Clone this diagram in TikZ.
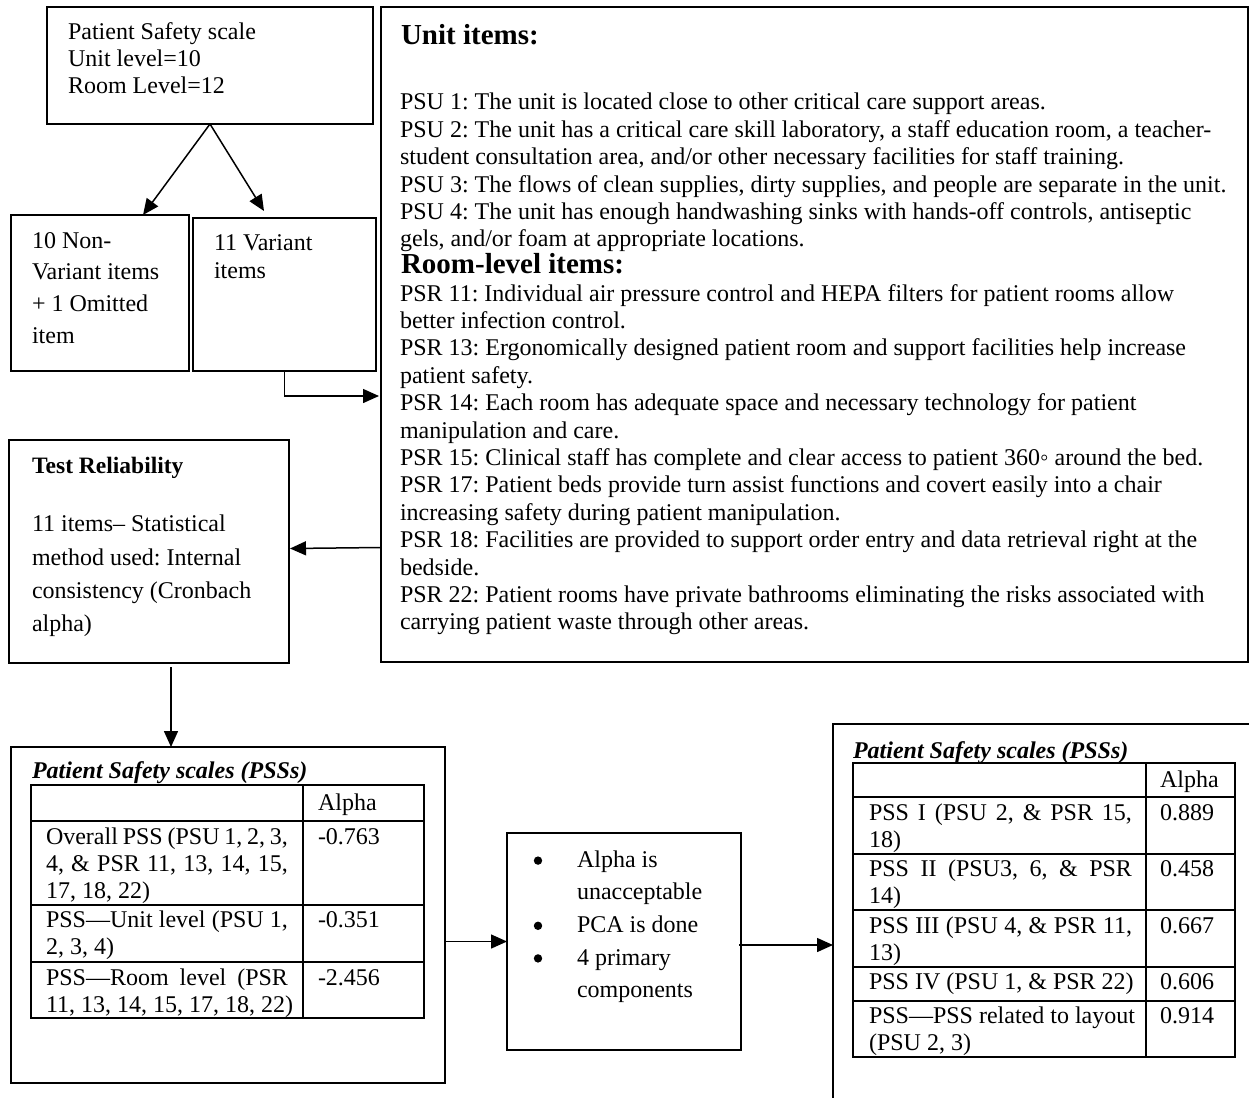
\documentclass[tikz,border=0pt]{standalone}
\usepackage{fontspec}
\setmainfont{Liberation Serif}
\usetikzlibrary{arrows.meta}
\frenchspacing
\newcommand\mlines[2][27.4]{{\fontsize{24}{#1}\selectfont\begin{tabular}[t]{@{}l@{}}#2\end{tabular}}}
\begin{document}
\begin{tikzpicture}[x=1pt,y=-1pt,
  box/.style={draw, line width=1.7pt, anchor=north west, inner sep=0pt, outer sep=0pt},
  txt/.style={anchor=base west, inner sep=0pt, outer sep=0pt, font=\fontsize{24}{27.4}\selectfont},
  head/.style={anchor=base west, inner sep=0pt, outer sep=0pt, font=\fontsize{29}{32}\selectfont\bfseries},
  ttl/.style={anchor=base west, inner sep=0pt, outer sep=0pt, font=\fontsize{24}{27}\selectfont\bfseries\itshape},
  arr/.style={line width=1.5pt, -{Triangle[length=16pt,width=14pt]}},
  tbl/.style={line width=1.1pt},
  dot/.style={fill=black}]
\useasboundingbox (0,0) rectangle (1249,1097);
\clip (0,0) rectangle (1249,1097);

% boxes
\node[box, minimum width=326pt, minimum height=117pt] (A) at (47,7) {};
\node[box, minimum width=178pt, minimum height=156pt] (B) at (11,215) {};
\node[box, minimum width=183pt, minimum height=153pt] (C) at (193,218) {};
\node[box, minimum width=867pt, minimum height=655pt] (D) at (381,7) {};
\node[box, minimum width=280pt, minimum height=223pt] (T) at (9,440) {};
\node[box, minimum width=434pt, minimum height=336pt] (P) at (11,747) {};
\node[box, minimum width=234pt, minimum height=217pt] (M) at (507,833) {};
\node[box, minimum width=440pt, minimum height=420pt] (R) at (833,724) {};

% texts top-left
\node[txt] (At) at (68,40) {\mlines[27]{Patient Safety scale\\Unit level=10\\Room Level=12}};
\node[txt] (Bt) at (32,248) {\mlines[31.7]{10 Non-\\Variant items\\+ 1 Omitted\\item}};
\node[txt] (Ct) at (214,250) {\mlines[28.3]{11 Variant\\items}};

% big box
\node[head] (Du) at (401,45) {Unit items:};
\node[txt] (Dut) at (400,110) {\mlines{PSU 1: The unit is located close to other critical care support areas.\\
PSU 2: The unit has a critical care skill laboratory, a staff education room, a teacher-\\
student consultation area, and/or other necessary facilities for staff training.\\
PSU 3: The flows of clean supplies, dirty supplies, and people are separate in the unit.\\
PSU 4: The unit has enough handwashing sinks with hands-off controls, antiseptic\\
gels, and/or foam at appropriate locations.}};
\node[head] (Dr) at (401,273) {Room-level items:};
\node[txt] (Drt) at (400,301) {\mlines{PSR 11: Individual air pressure control and HEPA filters for patient rooms allow\\
better infection control.\\
PSR 13: Ergonomically designed patient room and support facilities help increase\\
patient safety.\\
PSR 14: Each room has adequate space and necessary technology for patient\\
manipulation and care.\\
PSR 15: Clinical staff has complete and clear access to patient 360◦ around the bed.\\
PSR 17: Patient beds provide turn assist functions and covert easily into a chair\\
increasing safety during patient manipulation.\\
PSR 18: Facilities are provided to support order entry and data retrieval right at the\\
bedside.\\
PSR 22: Patient rooms have private bathrooms eliminating the risks associated with\\
carrying patient waste through other areas.}};

% test reliability
\node[anchor=base west, inner sep=0pt, font=\fontsize{23.5}{27}\selectfont\bfseries] (Th) at (32,473) {Test Reliability};
\node[txt] (Tt) at (32,531.7) {\mlines[33.3]{11 items– Statistical\\method used: Internal\\consistency (Cronbach\\alpha)}};

% left PSS table
\node[ttl] (Pt) at (32,778.3) {Patient Safety scales (PSSs)};
\draw[tbl] (31,785) rectangle (424,1018);
\draw[tbl] (303,785) -- (303,1018);
\draw[tbl] (31,821) -- (424,821) (31,905) -- (424,905) (31,962) -- (424,962);
\node[txt] (Ph) at (318,810) {Alpha};
\node[txt] (P1) at (46,844) {\mlines[27.3]{\makebox[242pt][s]{Overall PSS (PSU 1, 2, 3,}\\\makebox[242pt][s]{4, \& PSR 11, 13, 14, 15,}\\17, 18, 22)}};
\node[txt] (P1v) at (318,844) {-0.763};
\node[txt] (P2) at (46,927.3) {\mlines[27.3]{\makebox[242pt][s]{PSS—Unit level (PSU 1,}\\2, 3, 4)}};
\node[txt] (P2v) at (318,927.3) {-0.351};
\node[txt] (P3) at (46,985) {\mlines[27.3]{\makebox[242pt][s]{PSS—Room level (PSR}\\11, 13, 14, 15, 17, 18, 22)}};
\node[txt] (P3v) at (318,985) {-2.456};

% middle box
\node[txt] (Mt) at (577,867.3) {\mlines[32.6]{Alpha is\\unacceptable\\PCA is done\\4 primary\\components}};
\fill[dot] (538,860.6) circle (4.2pt);
\fill[dot] (538,925.8) circle (4.2pt);
\fill[dot] (538,958.4) circle (4.2pt);

% right PSS table
\node[ttl] (Rt) at (853,758.3) {Patient Safety scales (PSSs)};
\draw[tbl] (853,763) rectangle (1235,1057);
\draw[tbl] (1146,763) -- (1146,1057);
\draw[tbl] (853,797) -- (1235,797) (853,854) -- (1235,854) (853,910) -- (1235,910) (853,967) -- (1235,967) (853,1001) -- (1235,1001);
\node[txt] (Rh) at (1160,787.3) {Alpha};
\node[txt] (R1) at (869,820.7) {\mlines[26.8]{\makebox[263pt][s]{PSS I (PSU 2, \& PSR 15,}\\18)}};
\node[txt] (R1v) at (1160,820.7) {0.889};
\node[txt] (R2) at (869,876.7) {\mlines[26.8]{\makebox[263pt][s]{PSS II (PSU3, 6, \& PSR}\\14)}};
\node[txt] (R2v) at (1160,876.7) {0.458};
\node[txt] (R3) at (869,933.3) {\mlines[26.8]{\makebox[263pt][s]{PSS III (PSU 4, \& PSR 11,}\\13)}};
\node[txt] (R3v) at (1160,933.3) {0.667};
\node[txt] (R4) at (869,989.3) {PSS IV (PSU 1, \& PSR 22)};
\node[txt] (R4v) at (1160,989.3) {0.606};
\node[txt] (R5) at (869,1023.3) {\mlines[26.8]{PSS—PSS related to layout\\(PSU 2, 3)}};
\node[txt] (R5v) at (1160,1023.3) {0.914};

% connectors
\draw[arr] (A.south) -- ([xshift=43pt]B.north);
\draw[arr] (A.south) -- ([xshift=-20.5pt,yshift=7pt]C.north);
\draw[arr] (C.south) |- ([yshift=-61.5pt,xshift=-2pt]D.west);
\draw[arr] ([yshift=-213pt]D.west) -- ([xshift=1pt,yshift=3pt]T.east);
\draw[arr] ([xshift=22pt,yshift=-4pt]T.south) -- ([xshift=-57pt]P.north);
\draw[arr] (M.west -| P.east) -- (M.west);
\draw[arr] ([xshift=-2pt,yshift=-3.5pt]M.east) -- ([yshift=-3.5pt]M.east -| R.west);
\end{tikzpicture}
\end{document}
